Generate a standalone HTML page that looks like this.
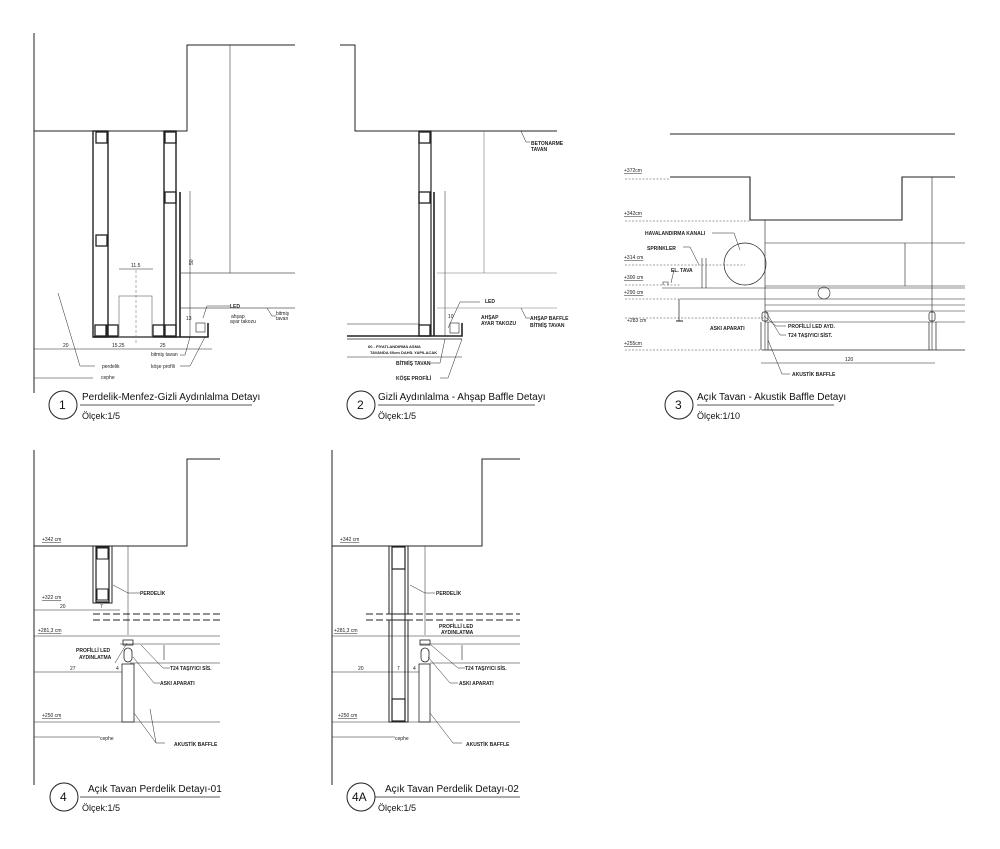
<!DOCTYPE html>
<html><head><meta charset="utf-8"><style>
html,body{margin:0;padding:0;background:#fff;}
svg{display:block;font-family:"Liberation Sans",sans-serif;}
.t{font-size:5px;font-weight:bold;fill:#222;}
.s{font-size:5px;fill:#222;}
.ti{font-size:10px;fill:#111;}
.sc{font-size:9px;fill:#111;}
.cn{font-size:12px;fill:#111;}
</style></head><body>
<svg width="1000" height="849" viewBox="0 0 1000 849" xmlns="http://www.w3.org/2000/svg">
<g fill="none" stroke="#222" stroke-width="1">
<!-- ===== DETAIL 1 ===== -->
<line x1="34" y1="33" x2="34" y2="393"/>
<polyline points="34,131 187,131 187,45 295,45"/>
<line x1="230" y1="45" x2="230" y2="273" stroke="#555" stroke-width="0.7"/>
<rect x="93" y="131" width="15" height="206" stroke-width="1.4"/>
<rect x="164" y="131" width="12" height="206" stroke-width="1.4"/>
<rect x="96" y="132" width="11" height="11" stroke-width="1.3"/>
<rect x="96" y="235" width="11" height="11" stroke-width="1.3"/>
<rect x="95" y="325" width="11" height="11" stroke-width="1.3"/><rect x="107" y="325" width="11" height="11" stroke-width="1.3"/>
<rect x="165" y="132" width="11" height="11" stroke-width="1.3"/>
<rect x="165" y="192" width="11" height="11" stroke-width="1.3"/>
<rect x="153" y="325" width="11" height="11" stroke-width="1.3"/><rect x="165" y="325" width="11" height="11" stroke-width="1.3"/>
<line x1="180" y1="192" x2="180" y2="337" stroke-width="1.6"/>
<polyline points="93,337 208,337 208,323" stroke-width="1.6"/>
<rect x="119" y="296" width="33" height="41" stroke="#777" stroke-width="0.7"/>
<line x1="136" y1="270" x2="136" y2="345" stroke="#666" stroke-width="0.5" stroke-dasharray="3,2"/>
<line x1="119" y1="269" x2="153" y2="269" stroke-width="0.5"/>
<line x1="181" y1="273" x2="295" y2="273" stroke="#555" stroke-width="0.7"/>
<line x1="181" y1="308" x2="295" y2="308" stroke="#555" stroke-width="0.7"/>
<line x1="190" y1="191" x2="190" y2="337" stroke-width="0.5"/>
<rect x="196" y="323" width="9" height="9" stroke-width="0.6"/>
<line x1="34" y1="349" x2="212" y2="349" stroke-width="0.5"/>
<line x1="34" y1="378" x2="93" y2="378" stroke-width="0.5"/>
<polyline points="58,293 80,366 95,366" stroke-width="0.5"/>
<polyline points="190,337 185,355 180,355" stroke-width="0.5"/>
<polyline points="205,337 190,366 180,366" stroke-width="0.5"/>
<polyline points="203,318 207,306 230,306" stroke-width="0.5"/>
<polyline points="267,308 272,316 276,316" stroke-width="0.5"/>
<line x1="80" y1="405" x2="252" y2="405" stroke-width="0.8"/>
<circle cx="63" cy="405" r="14"/>
<!-- ===== DETAIL 2 ===== -->
<polyline points="340,45 355,45 355,131 557,131"/>
<line x1="484" y1="131" x2="484" y2="273" stroke="#777" stroke-width="0.6"/>
<rect x="419" y="131" width="12" height="205" stroke-width="1.2"/>
<rect x="419" y="132" width="11" height="11" stroke-width="1.3"/>
<rect x="419" y="192" width="11" height="11" stroke-width="1.3"/>
<rect x="419" y="325" width="11" height="11" stroke-width="1.3"/>
<line x1="434" y1="192" x2="434" y2="336" stroke-width="1.6"/>
<line x1="437" y1="273" x2="557" y2="273" stroke="#777" stroke-width="0.6"/>
<line x1="437" y1="308" x2="557" y2="308" stroke="#777" stroke-width="0.6"/>
<line x1="445" y1="191" x2="445" y2="336" stroke-width="0.5"/>
<polyline points="347,336 462,336 462,323" stroke-width="1.6"/>
<line x1="347" y1="339" x2="462" y2="339" stroke-width="0.8"/>
<line x1="347" y1="324" x2="419" y2="324" stroke-width="0.6"/>
<rect x="450" y="323" width="9" height="10" stroke-width="0.6"/>
<line x1="347" y1="357" x2="462" y2="357" stroke-width="0.5"/>
<polyline points="521,131 526,142 530,142" stroke-width="0.5"/>
<polyline points="521,308 526,318 530,318" stroke-width="0.5"/>
<polyline points="448,328 460,302 480,302" stroke-width="0.5"/>
<polyline points="445,339 440,363 430,363" stroke-width="0.5"/>
<polyline points="462,339 448,378 440,378" stroke-width="0.5"/>
<line x1="378" y1="405" x2="535" y2="405" stroke-width="0.8"/>
<circle cx="361" cy="405" r="14"/>
<!-- ===== DETAIL 3 ===== -->
<line x1="670" y1="134" x2="955" y2="134"/>
<polyline points="670,177 750,177 750,220 902,220 902,177 955,177" stroke-width="1.1"/>
<g stroke-width="0.5" stroke-dasharray="2,1.5" stroke="#444">
<line x1="625" y1="179" x2="670" y2="179"/><line x1="625" y1="221" x2="750" y2="221"/>
<line x1="625" y1="265" x2="745" y2="265"/><line x1="625" y1="285" x2="680" y2="285"/>
<line x1="625" y1="299" x2="680" y2="299"/><line x1="625" y1="318" x2="765" y2="318"/>
<line x1="625" y1="350" x2="762" y2="350"/>
</g>
<circle cx="745" cy="264" r="21" stroke-width="0.7"/>
<line x1="765" y1="243" x2="965" y2="243" stroke-width="0.6"/>
<line x1="765" y1="286" x2="965" y2="286" stroke-width="0.6"/>
<line x1="905" y1="243" x2="905" y2="286" stroke-width="0.6"/>
<line x1="662" y1="288" x2="965" y2="288" stroke-width="0.6"/>
<line x1="680" y1="299" x2="965" y2="299" stroke-width="0.6"/>
<circle cx="824" cy="293" r="6" stroke-width="0.6"/>
<line x1="765" y1="220" x2="765" y2="350" stroke-width="0.6"/>
<line x1="932" y1="177" x2="932" y2="350" stroke-width="0.6"/>
<line x1="765" y1="305" x2="965" y2="305" stroke-width="0.6"/>
<line x1="765" y1="311" x2="965" y2="311" stroke-width="0.6"/>
<line x1="765" y1="322" x2="965" y2="322" stroke-width="0.6"/>
<line x1="762" y1="350" x2="965" y2="350" stroke-width="0.7"/>
<line x1="761" y1="322" x2="761" y2="350" stroke-width="0.7"/><line x1="768" y1="322" x2="768" y2="350" stroke-width="0.7"/>
<line x1="929" y1="322" x2="929" y2="350" stroke-width="0.7"/><line x1="936" y1="322" x2="936" y2="350" stroke-width="0.7"/>
<rect x="762" y="312" width="6" height="9" rx="2" stroke-width="0.7"/>
<rect x="929" y="312" width="6" height="9" rx="2" stroke-width="0.7"/>
<line x1="679" y1="299" x2="679" y2="321" stroke-width="0.7"/><line x1="676" y1="321" x2="683" y2="321"/>
<line x1="702" y1="258" x2="702" y2="288" stroke-width="0.6"/><line x1="706" y1="258" x2="706" y2="288" stroke-width="0.6"/>
<polyline points="663,285 663,282 668,282 668,285" stroke-width="0.6"/>
<line x1="761" y1="363" x2="935" y2="363" stroke-width="0.5"/>
<polyline points="712,233 734,233 740,250" stroke-width="0.5"/>
<polyline points="683,247 690,247 699,265" stroke-width="0.5"/>
<polyline points="674,270 671,283" stroke-width="0.5"/>
<polyline points="764,316 776,326 786,326" stroke-width="0.5"/>
<polyline points="766,312 780,335 786,335" stroke-width="0.5"/>
<polyline points="768,340 782,374 790,374" stroke-width="0.5"/>
<line x1="697" y1="405" x2="834" y2="405" stroke-width="0.8"/>
<circle cx="679" cy="405" r="14"/>
<!-- ===== DETAIL 4 ===== -->
<line x1="34" y1="450" x2="34" y2="785"/>
<polyline points="34,546 187,546 187,459 220,459"/>
<rect x="93" y="546" width="19" height="57" stroke-width="1"/>
<rect x="96" y="547" width="13" height="55" stroke-width="1.2"/>
<rect x="97" y="548" width="11" height="11" stroke-width="1"/>
<rect x="97" y="589" width="11" height="11" stroke-width="1"/>
<line x1="128" y1="546" x2="128" y2="635" stroke-width="0.5"/>
<g stroke-dasharray="7,3" stroke-width="1.1"><line x1="93" y1="614" x2="220" y2="614"/><line x1="93" y1="620" x2="220" y2="620"/></g>
<line x1="34" y1="636" x2="220" y2="636" stroke-width="0.5"/>
<line x1="120" y1="644" x2="220" y2="644" stroke-width="0.5"/>
<line x1="130" y1="663" x2="220" y2="663" stroke-width="0.5"/>
<rect x="122" y="664" width="12" height="58" stroke-width="0.8"/>
<rect x="124" y="648" width="8" height="14" rx="4" stroke-width="0.8"/>
<rect x="123" y="640" width="10" height="5" stroke-width="0.8"/>
<line x1="34" y1="722" x2="220" y2="722" stroke-width="0.6"/>
<line x1="34" y1="610" x2="120" y2="610" stroke-width="0.5"/>
<line x1="34" y1="672" x2="122" y2="672" stroke-width="0.5"/>
<line x1="34" y1="737" x2="100" y2="737" stroke-width="0.5"/>
<polyline points="113,585 128,593 140,593" stroke-width="0.5"/>
<polyline points="127,643 115,663" stroke-width="0.5"/>
<polyline points="141,645 163,668 170,668" stroke-width="0.5"/>
<polyline points="133,657 154,683 160,683" stroke-width="0.5"/>
<polyline points="134,713 156,743 165,743" stroke-width="0.5"/>
<polyline points="150,709 156,743" stroke-width="0.5"/>
<line x1="80" y1="797" x2="220" y2="797" stroke-width="0.8"/>
<circle cx="64" cy="797" r="14"/>
<!-- ===== DETAIL 4A ===== -->
<line x1="332" y1="450" x2="332" y2="785"/>
<polyline points="332,546 482,546 482,459 520,459"/>
<rect x="389" y="546" width="19" height="68" stroke-width="1"/>
<rect x="389" y="620" width="19" height="102" stroke-width="1"/>
<rect x="392" y="547" width="13" height="22" stroke-width="1.2"/>
<rect x="392" y="699" width="13" height="22" stroke-width="1.2"/>
<line x1="392" y1="569" x2="392" y2="699" stroke-width="1"/><line x1="405" y1="569" x2="405" y2="699" stroke-width="1"/>
<line x1="425" y1="546" x2="425" y2="635" stroke-width="0.5"/>
<g stroke-dasharray="7,3" stroke-width="1.1"><line x1="366" y1="614" x2="520" y2="614"/><line x1="366" y1="620" x2="520" y2="620"/></g>
<line x1="332" y1="636" x2="520" y2="636" stroke-width="0.5"/>
<line x1="420" y1="644" x2="520" y2="644" stroke-width="0.5"/>
<line x1="430" y1="663" x2="520" y2="663" stroke-width="0.5"/>
<rect x="419" y="664" width="11" height="58" stroke-width="0.8"/>
<rect x="421" y="648" width="8" height="14" rx="4" stroke-width="0.8"/>
<rect x="420" y="640" width="10" height="5" stroke-width="0.8"/>
<line x1="332" y1="722" x2="520" y2="722" stroke-width="0.6"/>
<line x1="332" y1="672" x2="419" y2="672" stroke-width="0.5"/>
<line x1="332" y1="737" x2="395" y2="737" stroke-width="0.5"/>
<polyline points="410,585 425,593 435,593" stroke-width="0.5"/>
<polyline points="431,645 458,668 465,668" stroke-width="0.5"/>
<polyline points="428,657 450,683 458,683" stroke-width="0.5"/>
<polyline points="430,713 453,743 462,743" stroke-width="0.5"/>
<line x1="375" y1="797" x2="520" y2="797" stroke-width="0.8"/>
<circle cx="361" cy="797" r="14"/>
<!-- small hangers 4/4A -->
<line x1="164" y1="645" x2="164" y2="660" stroke-width="0.6"/><line x1="462" y1="645" x2="462" y2="660" stroke-width="0.6"/>
</g>
<!-- TEXT -->
<g>
<text class="cn" x="59" y="409">1</text>
<text class="ti" x="82" y="400">Perdelik-Menfez-Gizli Aydınlalma Detayı</text>
<text class="sc" x="82" y="419">Ölçek:1/5</text>
<text class="s" x="131" y="267">11.5</text>
<text class="s" x="63" y="347">20</text><text class="s" x="112" y="347">15.25</text><text class="s" x="160" y="347">25</text>
<text class="s" x="186" y="320">13</text>
<text class="t" x="230" y="308" font-weight="bold">LED</text>
<text class="s" x="231" y="318">ahşap</text><text class="s" x="230" y="323">ayar takozu</text>
<text class="s" x="276" y="315">bitmiş</text><text class="s" x="276" y="320">tavan</text>
<text class="s" x="151" y="356">bitmiş tavan</text>
<text class="s" x="151" y="368">köşe profili</text>
<text class="s" x="102" y="368">perdelik</text>
<text class="s" x="101" y="379">cephe</text>
<text class="s" x="187" y="265" transform="rotate(-90 190 262)">50</text>

<text class="cn" x="357" y="409">2</text>
<text class="ti" x="378" y="400">Gizli Aydınlalma - Ahşap Baffle Detayı</text>
<text class="sc" x="378" y="419">Ölçek:1/5</text>
<text class="t" x="531" y="145">BETONARME</text><text class="t" x="531" y="151">TAVAN</text>
<text class="t" x="485" y="303">LED</text>
<text class="t" x="481" y="319">AHŞAP</text><text class="t" x="481" y="325">AYAR TAKOZU</text>
<text class="t" x="530" y="320">AHŞAP BAFFLE</text><text class="t" x="530" y="327">BİTMİŞ TAVAN</text>
<text class="t" x="368" y="348" style="font-size:4px">60 - FİYATLANDIRMA ASMA</text>
<text class="t" x="370" y="354" style="font-size:4px">TAVANDA 60cm DAHİL YAPILACAK</text>
<text class="t" x="396" y="365">BİTMİŞ TAVAN</text>
<text class="t" x="396" y="380">KÖŞE PROFİLİ</text>
<text class="s" x="448" y="318">10</text>

<text class="cn" x="675" y="409">3</text>
<text class="ti" x="697" y="400">Açık Tavan - Akustik Baffle Detayı</text>
<text class="sc" x="697" y="419">Ölçek:1/10</text>
<text class="s" x="624" y="172" text-decoration="underline">+372cm</text>
<text class="s" x="624" y="215" text-decoration="underline">+342cm</text>
<text class="s" x="624" y="259" text-decoration="underline">+314 cm</text>
<text class="s" x="624" y="279" text-decoration="underline">+300 cm</text>
<text class="s" x="624" y="294" text-decoration="underline">+290 cm</text>
<text class="s" x="627" y="322">+283 cm</text>
<text class="s" x="624" y="345" text-decoration="underline">+255cm</text>
<text class="t" x="645" y="235">HAVALANDIRMA KANALI</text>
<text class="t" x="647" y="250">SPRINKLER</text>
<text class="t" x="671" y="272">EL. TAVA</text>
<text class="t" x="710" y="330">ASKI APARATI</text>
<text class="t" x="788" y="328">PROFİLLİ LED AYD.</text>
<text class="t" x="788" y="337">T24 TAŞIYICI SİST.</text>
<text class="t" x="792" y="376">AKUSTİK BAFFLE</text>
<text class="s" x="845" y="361">120</text>

<text class="cn" x="60" y="801">4</text>
<text class="ti" x="88" y="792">Açık Tavan Perdelik Detayı-01</text>
<text class="sc" x="82" y="811">Ölçek:1/5</text>
<text class="s" x="42" y="541" text-decoration="underline">+342 cm</text>
<text class="s" x="42" y="599" text-decoration="underline">+322 cm</text>
<text class="s" x="38" y="632" text-decoration="underline">+281,3 cm</text>
<text class="s" x="42" y="717" text-decoration="underline">+250 cm</text>
<text class="s" x="60" y="608">20</text><text class="s" x="100" y="608">7</text>
<text class="s" x="70" y="670">27</text><text class="s" x="116" y="670">4</text>
<text class="s" x="100" y="740">cephe</text>
<text class="t" x="140" y="595">PERDELİK</text>
<text class="t" x="76" y="652">PROFİLLİ LED</text><text class="t" x="79" y="659">AYDINLATMA</text>
<text class="t" x="170" y="670">T24 TAŞIYICI SİS.</text>
<text class="t" x="160" y="685">ASKI APARATI</text>
<text class="t" x="174" y="746">AKUSTİK BAFFLE</text>

<text class="cn" x="352" y="801">4A</text>
<text class="ti" x="385" y="792">Açık Tavan Perdelik Detayı-02</text>
<text class="sc" x="378" y="811">Ölçek:1/5</text>
<text class="s" x="340" y="541" text-decoration="underline">+342 cm</text>
<text class="s" x="334" y="632" text-decoration="underline">+281,3 cm</text>
<text class="s" x="338" y="717" text-decoration="underline">+250 cm</text>
<text class="s" x="358" y="670">20</text><text class="s" x="397" y="670">7</text><text class="s" x="413" y="670">4</text>
<text class="s" x="395" y="740">cephe</text>
<text class="t" x="436" y="595">PERDELİK</text>
<text class="t" x="439" y="628">PROFİLLİ LED</text><text class="t" x="441" y="634">AYDINLATMA</text>
<text class="t" x="465" y="670">T24 TAŞIYICI SİS.</text>
<text class="t" x="459" y="685">ASKI APARATI</text>
<text class="t" x="466" y="746">AKUSTİK BAFFLE</text>
</g>
</svg>
</body></html>
